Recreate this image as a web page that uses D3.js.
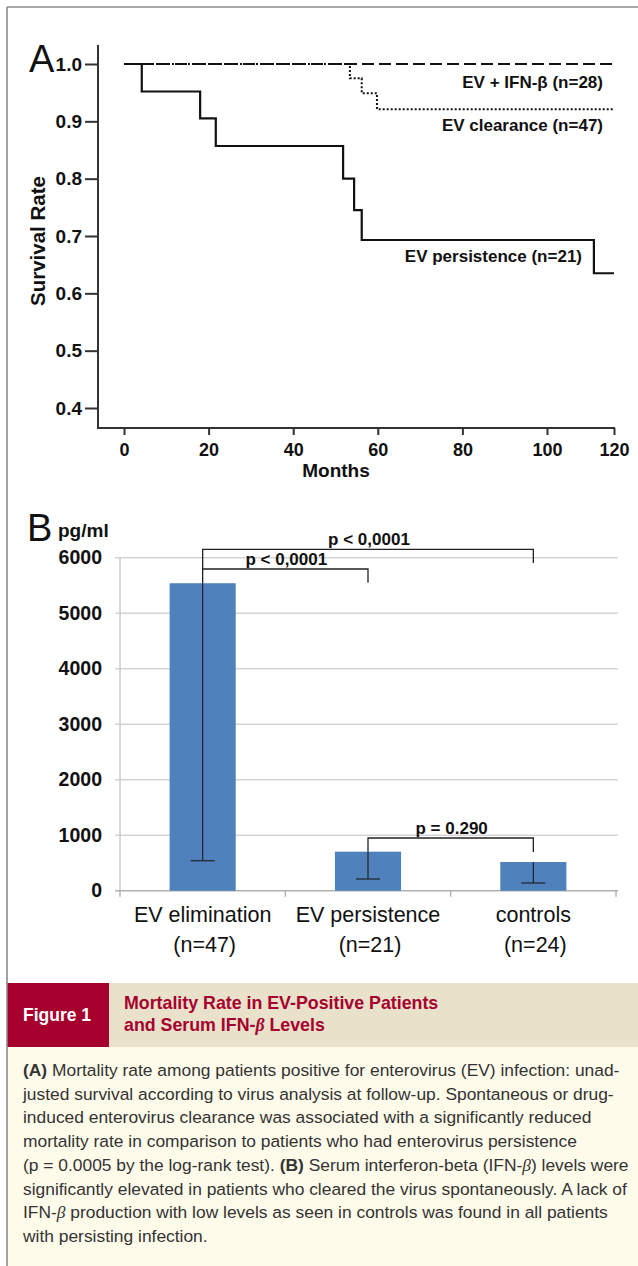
<!DOCTYPE html>
<html><head><meta charset="utf-8">
<script src="https://cdn.jsdelivr.net/npm/d3@7"></script>
<style>body{margin:0;background:#fff} svg{display:block}</style>
</head><body><svg id="c" width="638" height="1266"></svg>
<script>
// ---------- Panel A : Kaplan-Meier ----------
const kmTicksX = [0, 20, 40, 60, 80, 100, 120];
const kmTicksY = [0.4, 0.5, 0.6, 0.7, 0.8, 0.9, 1.0];
const ifnMonths = [0, 120];
const ifnSurv = [1, 1];
const clearMonths = [0, 53.4, 56.2, 59.8, 120];
const clearSurv = [1, 0.975, 0.949, 0.921, 0.921];
const persMonths = [0, 4.2, 18, 21.7, 51.8, 54.4, 56.2, 114, 120];
const persSurv = [1, 0.952, 0.905, 0.857, 0.80, 0.745, 0.693, 0.635, 0.635];
const kmLabels = ["EV + IFN-β (n=28)", "EV clearance (n=47)", "EV persistence (n=21)"];

// ---------- Panel B : bars ----------
const groups = ["EV elimination", "EV persistence", "controls"];
const groupN = ["(n=47)", "(n=21)", "(n=24)"];
const ifnMean = [5540, 703, 517];
const ifnLow = [540, 211, 139];
const bTicks = [0, 1000, 2000, 3000, 4000, 5000, 6000];
const pLabels = ["p < 0,0001", "p < 0,0001", "p = 0.290"];
const pFrom = [0, 0, 1];
const pTo = [2, 1, 2];
const pLevel = [6150, 5796, 950];
const pLeftEnd = [5796, 5540, 703];
const pRightEnd = [5905, 5550, 697];

// ---------- Caption ----------
const figLabel = "Figure 1";
const titleLines = [[["Mortality Rate in EV-Positive Patients"]], [["and Serum IFN-"], ["β", "i"], [" Levels"]]];
const captionLines = [
  [["(A)", "b"], [" Mortality rate among patients positive for enterovirus (EV) infection: unad-"]],
  [["justed survival according to virus analysis at follow-up. Spontaneous or drug-"]],
  [["induced enterovirus clearance was associated with a significantly reduced"]],
  [["mortality rate in comparison to patients who had enterovirus persistence"]],
  [["(p = 0.0005 by the log-rank test). "], ["(B)", "b"], [" Serum interferon-beta (IFN-"], ["β", "i"], [") levels were"]],
  [["significantly elevated in patients who cleared the virus spontaneously. A lack of"]],
  [["IFN-"], ["β", "i"], [" production with low levels as seen in controls was found in all patients"]],
  [["with persisting infection."]]
];

const svg = d3.select("#c");
const FONT = "'Liberation Sans', Arial, sans-serif";
svg.append("rect").attr("width", 638).attr("height", 1266).attr("fill", "#fff");

// frame
svg.append("line").attr("x1", 7).attr("x2", 638).attr("y1", 7).attr("y2", 7).attr("stroke", "#8c8c8c").attr("stroke-width", 1.6);

// ===== Panel A =====
const xA = d3.scaleLinear().domain([0, 100, 120]).range([124, 547, 614]);
const yA = d3.scaleLinear().domain([0.4, 1.0]).range([408, 64]);
const gA = svg.append("g").attr("font-family", FONT);
const axisCol = "#333";
gA.append("line").attr("x1", 98).attr("x2", 98).attr("y1", 45).attr("y2", 428).attr("stroke", axisCol).attr("stroke-width", 2);
gA.append("line").attr("x1", 97).attr("x2", 615).attr("y1", 428).attr("y2", 428).attr("stroke", axisCol).attr("stroke-width", 2);
const yAx = gA.append("g").attr("transform", "translate(98,0)")
  .call(d3.axisLeft(yA).tickValues(kmTicksY).tickFormat(d3.format(".1f")).tickSize(13).tickPadding(3));
yAx.select(".domain").remove();
yAx.selectAll("line").attr("stroke", axisCol).attr("stroke-width", 2);
yAx.selectAll("text").attr("font-size", 19).attr("font-weight", "bold").attr("fill", "#111").attr("font-family", FONT);
const xAx = gA.append("g").attr("transform", "translate(0,428)")
  .call(d3.axisBottom(xA).tickValues(kmTicksX).tickFormat(d3.format("d")).tickSize(7).tickPadding(8));
xAx.select(".domain").remove();
xAx.selectAll("line").attr("stroke", axisCol).attr("stroke-width", 2);
xAx.selectAll("text").attr("font-size", 18).attr("font-weight", "bold").attr("fill", "#111").attr("font-family", FONT);
gA.append("text").attr("x", 29).attr("y", 72).attr("font-size", 38).attr("fill", "#111").text("A");
gA.append("text").attr("x", 336).attr("y", 477).attr("text-anchor", "middle").attr("font-size", 19).attr("font-weight", "bold").attr("fill", "#111").text("Months");
gA.append("text").attr("transform", "translate(45,241) rotate(-90)").attr("text-anchor", "middle").attr("font-size", 20.5).attr("font-weight", "bold").attr("fill", "#111").text("Survival Rate");

const step = d3.line().x(d => xA(d[0])).y(d => yA(d[1])).curve(d3.curveStepAfter);
gA.append("path").attr("d", step(d3.zip(clearMonths, clearSurv))).attr("fill", "none").attr("stroke", "#111").attr("stroke-width", 2).attr("stroke-dasharray", "2,2");
gA.append("path").attr("d", step(d3.zip(ifnMonths, ifnSurv))).attr("fill", "none").attr("stroke", "#111").attr("stroke-width", 2).attr("stroke-dasharray", "12,5");
gA.append("path").attr("d", step(d3.zip(persMonths, persSurv))).attr("fill", "none").attr("stroke", "#111").attr("stroke-width", 2.2);
const labPos = [[603, 88], [603, 131], [582, 262]];
kmLabels.forEach((t, i) => {
  gA.append("text").attr("x", labPos[i][0]).attr("y", labPos[i][1]).attr("text-anchor", "end")
    .attr("font-size", 17).attr("font-weight", "bold").attr("fill", "#111").text(t);
});

// ===== Panel B =====
const xB = d3.scaleBand().domain(groups).range([120, 616]).paddingInner(0).paddingOuter(0);
const yB = d3.scaleLinear().domain([0, 6000]).range([890.7, 557.7]);
const gB = svg.append("g").attr("font-family", FONT);
gB.selectAll("line.grid").data(bTicks.filter(d => d > 0)).join("line").attr("class", "grid")
  .attr("x1", 115).attr("x2", 618).attr("y1", d => yB(d)).attr("y2", d => yB(d)).attr("stroke", "#d4d4d4").attr("stroke-width", 1.4);
gB.append("line").attr("x1", 120).attr("x2", 120).attr("y1", yB(6000)).attr("y2", yB(0)).attr("stroke", "#c8c8c8").attr("stroke-width", 1.4);
gB.append("line").attr("x1", 115).attr("x2", 618).attr("y1", yB(0)).attr("y2", yB(0)).attr("stroke", "#b0b0b0").attr("stroke-width", 1.4);
const bounds = groups.map(g => xB(g)).concat([xB.range()[1]]);
gB.selectAll("line.ct").data(bounds).join("line").attr("class", "ct")
  .attr("x1", d => d).attr("x2", d => d).attr("y1", yB(0)).attr("y2", yB(0) + 6).attr("stroke", "#b0b0b0").attr("stroke-width", 1.4);
const yBx = gB.append("g").attr("transform", "translate(104,0)")
  .call(d3.axisLeft(yB).tickValues(bTicks).tickFormat(d3.format("d")).tickSize(0).tickPadding(2));
yBx.select(".domain").remove();
yBx.selectAll("text").attr("font-size", 19.5).attr("font-weight", "bold").attr("fill", "#111").attr("font-family", FONT);
const bw = xB.bandwidth() * 0.4;
const cx = g => xB(g) + xB.bandwidth() / 2;
gB.selectAll("rect.bar").data(groups).join("rect").attr("class", "bar")
  .attr("x", g => cx(g) - bw / 2).attr("width", bw)
  .attr("y", (g, i) => yB(ifnMean[i])).attr("height", (g, i) => yB(0) - yB(ifnMean[i]))
  .attr("fill", "#4f81bd");
// error bars (downward)
groups.forEach((g, i) => {
  gB.append("line").attr("x1", cx(g)).attr("x2", cx(g)).attr("y1", yB(ifnMean[i])).attr("y2", yB(ifnLow[i])).attr("stroke", "#222").attr("stroke-width", 1.2);
  gB.append("line").attr("x1", cx(g) - 12).attr("x2", cx(g) + 12).attr("y1", yB(ifnLow[i])).attr("y2", yB(ifnLow[i])).attr("stroke", "#222").attr("stroke-width", 1.2);
});
// significance brackets
pLabels.forEach((t, i) => {
  const x1 = cx(groups[pFrom[i]]), x2 = cx(groups[pTo[i]]);
  const pts = [[x1, yB(pLeftEnd[i])], [x1, yB(pLevel[i])], [x2, yB(pLevel[i])], [x2, yB(pRightEnd[i])]];
  gB.append("path").attr("d", d3.line()(pts)).attr("fill", "none").attr("stroke", "#222").attr("stroke-width", 1.3);
  gB.append("text").attr("x", (x1 + x2) / 2 + 1).attr("y", yB(pLevel[i]) - 4).attr("text-anchor", "middle")
    .attr("font-size", 17).attr("font-weight", "bold").attr("fill", "#111").text(t);
});
groups.forEach((g, i) => {
  gB.append("text").attr("x", cx(g)).attr("y", 922).attr("text-anchor", "middle").attr("font-size", 21.5).attr("fill", "#111").text(g);
  gB.append("text").attr("x", cx(g) + 2).attr("y", 952).attr("text-anchor", "middle").attr("font-size", 21.5).attr("fill", "#111").text(groupN[i]);
});
gB.append("text").attr("x", 27).attr("y", 541).attr("font-size", 38).attr("fill", "#111").text("B");
gB.append("text").attr("x", 58).attr("y", 537).attr("font-size", 19).attr("font-weight", "bold").attr("fill", "#111").text("pg/ml");

// ===== Caption =====
const gC = svg.append("g").attr("font-family", FONT);
gC.append("rect").attr("x", 7).attr("y", 983).attr("width", 631).attr("height", 64).attr("fill", "#e9e1ca");
gC.append("rect").attr("x", 7).attr("y", 983).attr("width", 102).attr("height", 64).attr("fill", "#a6002f");
gC.append("rect").attr("x", 7).attr("y", 1047).attr("width", 631).attr("height", 219).attr("fill", "#fffbea");
gC.append("text").attr("x", 23).attr("y", 1021).attr("font-size", 17.5).attr("font-weight", "bold").attr("fill", "#fff").text(figLabel);
function addLine(parent, segs, x, y, size, color, baseWeight) {
  const t = parent.append("text").attr("x", x).attr("y", y).attr("font-size", size).attr("fill", color).attr("font-weight", baseWeight).attr("xml:space", "preserve").style("white-space", "pre");
  segs.forEach(s => {
    const sp = t.append("tspan").text(s[0]);
    if (s[1] === "b") sp.attr("font-weight", "bold");
    if (s[1] === "i") sp.attr("font-style", "italic").attr("font-family", "'Liberation Serif', serif");
  });
  return t;
}
titleLines.forEach((l, i) => addLine(gC, l, 124, 1009 + i * 22, 17.8, "#a6002f", "bold"));
captionLines.forEach((l, i) => addLine(gC, l, 23, 1076 + i * 23.7, 17.4, "#333", "normal"));
// left frame line on top of everything
svg.append("line").attr("x1", 7).attr("x2", 7).attr("y1", 7).attr("y2", 1266).attr("stroke", "#8c8c8c").attr("stroke-width", 1.6);
</script></body></html>
